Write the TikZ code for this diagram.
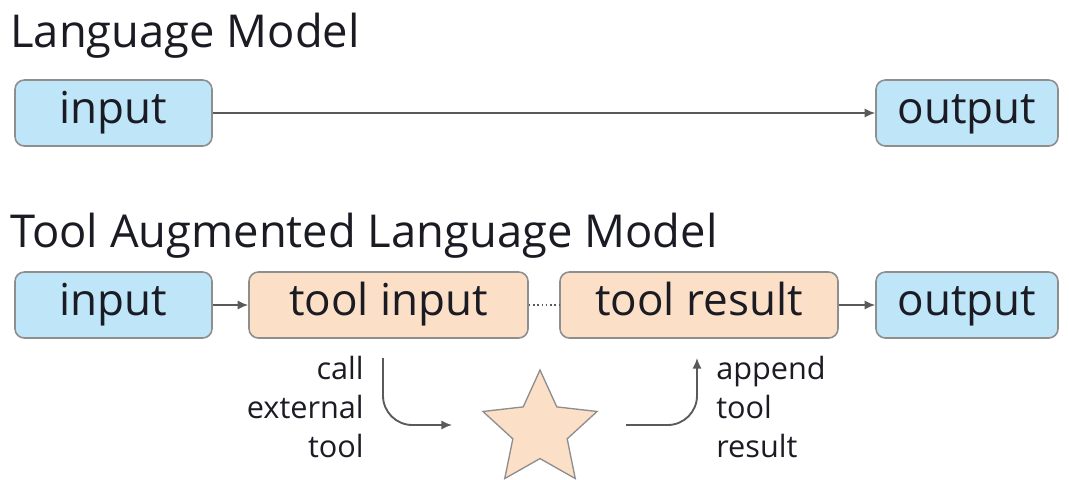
\documentclass[tikz,border=0pt]{standalone}
\usepackage{fontspec}
\setmainfont{Open Sans}
\usetikzlibrary{shapes.geometric,arrows.meta}
\definecolor{boxblue}{HTML}{BEE5F8}
\definecolor{boxpeach}{HTML}{FCDFC7}
\definecolor{boxedge}{HTML}{8E8E8E}
\definecolor{arrowgray}{HTML}{5A5A5A}
\definecolor{txt}{HTML}{1B1B24}
\begin{document}
\begin{tikzpicture}[x=0.75pt,y=-0.75pt,
  box/.style={draw=boxedge,line width=1.2pt,rounded corners=7pt,minimum height=49.5pt,inner sep=0pt,font=\fontsize{33}{40}\selectfont,text=txt,text height=24pt,text depth=8pt},
  bluebox/.style={box,fill=boxblue},
  peachbox/.style={box,fill=boxpeach},
  title/.style={anchor=base west,inner sep=0pt,font=\fontsize{34}{40}\selectfont,text=txt},
  small/.style={inner sep=0pt,font=\fontsize{23}{29}\selectfont,text=txt},
  conn/.style={draw=arrowgray,line width=1.4pt,-{Latex[length=8pt,width=7pt]}}]
\useasboundingbox (0,0) rectangle (1069,479);
\node[title] (t1) at (10,47) {Language Model};
\node[title] (t2) at (10,247) {Tool Augmented Language Model};
\node[bluebox,minimum width=147.75pt] (in1) at (113.5,113) {input};
\node[bluebox,minimum width=136.5pt] (out1) at (967,113) {output};
\draw[conn] (in1) -- (out1);
\node[bluebox,minimum width=147.75pt] (in2) at (113.5,305) {input};
\node[peachbox,minimum width=209.25pt] (ti) at (388.5,305) {tool input};
\node[peachbox,minimum width=208.5pt] (tr) at (699,305) {tool result};
\node[bluebox,minimum width=136.5pt] (out2) at (967,305) {output};
\draw[conn] (in2) -- (ti);
\draw[draw=arrowgray,line width=1.2pt,dotted] (ti) -- (tr);
\draw[conn] (tr) -- (out2);
\node[star,star points=5,star point ratio=2.1,minimum size=90pt,inner sep=0pt,fill=boxpeach,draw=boxedge,line width=1pt] (st) at (540,430) {};
\node[small,anchor=base east,align=right] (lt) at (364,457) {call\\external\\tool};
\node[small,anchor=base west,align=left] (rt) at (716,457) {append\\tool\\result};
\coordinate (a1) at (383,358);
\coordinate (a2) at (452,425);
\draw[conn,rounded corners=22pt] (a1) |- (a2);
\coordinate (b1) at (626,425);
\coordinate (b2) at (697,358);
\draw[conn,rounded corners=22pt] (b1) -| (b2);
\end{tikzpicture}
\end{document}
